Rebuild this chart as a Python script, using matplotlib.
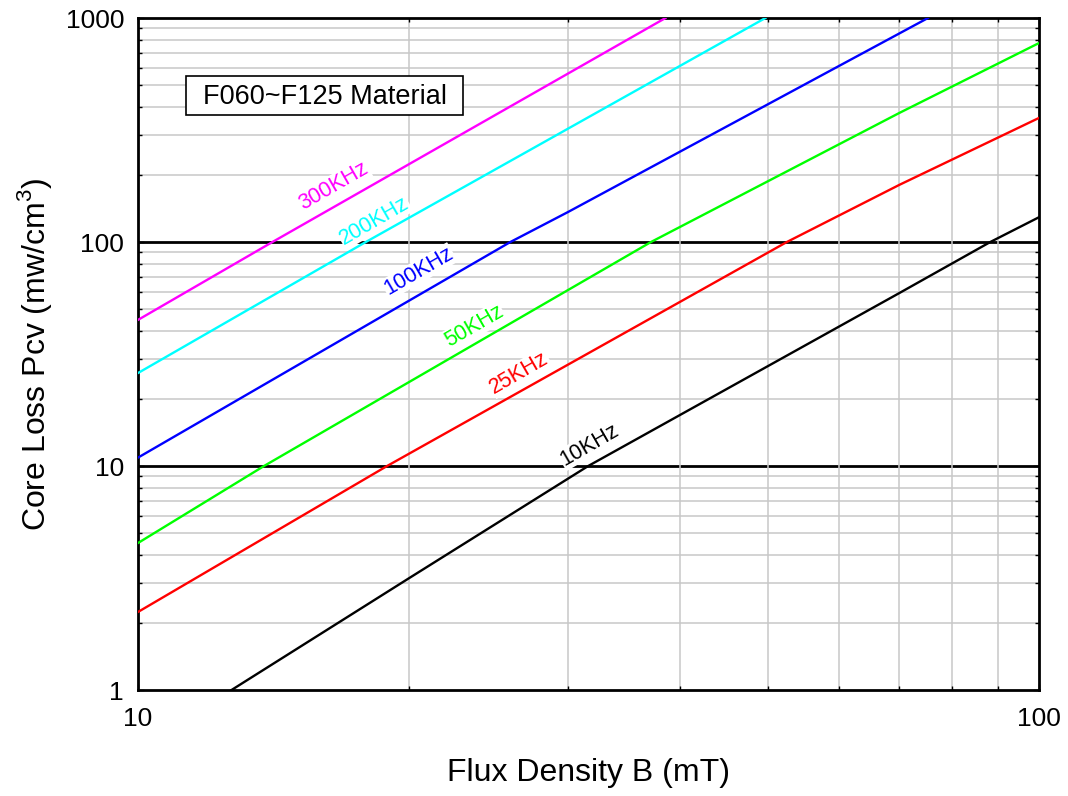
import matplotlib
matplotlib.use("Agg")
import matplotlib.pyplot as plt
from matplotlib.patches import Rectangle
from matplotlib.ticker import LogLocator, NullFormatter, FixedLocator, FixedFormatter

plt.rcParams['font.family'] = ['Liberation Sans', 'DejaVu Sans']
plt.rcParams['mathtext.fontset'] = 'custom'
plt.rcParams['mathtext.rm'] = 'Liberation Sans'

# curvas (B en mT, Pcv en mw/cm3)
b_10k = [12.7, 20, 31.6, 70, 88.3, 100]
p_10k = [1, 3.16, 10, 59.2, 100, 129]
b_25k = [10, 18.9, 52.5, 70, 100]
p_25k = [2.23, 10, 100, 180, 358]
b_50k = [10, 13.8, 37.1, 70, 100]
p_50k = [4.53, 10, 100, 377, 773]
b_100k = [10, 25.9, 30, 75.3]
p_100k = [10.9, 100, 136, 1000]
b_200k = [10, 17.9, 49.7]
p_200k = [26.0, 100, 1000]
b_300k = [10, 14.1, 38.5]
p_300k = [44.9, 100, 1000]

series = [
    ("300KHz", b_300k, p_300k, "#ff00ff", 16.5, 178),
    ("200KHz", b_200k, p_200k, "#00ffff", 18.3, 124),
    ("100KHz", b_100k, p_100k, "#0000ff", 20.5, 74),
    ("50KHz", b_50k, p_50k, "#00ff00", 23.6, 42),
    ("25KHz", b_25k, p_25k, "#ff0000", 26.5, 26.0),
    ("10KHz", b_10k, p_10k, "#000000", 31.7, 12.4),
]

fig = plt.figure(figsize=(10.68, 7.96), dpi=100)
ax = fig.add_axes([138/1068, 106/796, 901/1068, 672/796])
ax.set_xscale('log')
ax.set_yscale('log')
ax.set_xlim(10, 100)
ax.set_ylim(1, 1000)

# rejilla
ax.xaxis.set_minor_locator(LogLocator(base=10, subs=range(2, 10)))
ax.yaxis.set_minor_locator(LogLocator(base=10, subs=range(2, 10)))
ax.xaxis.set_minor_formatter(NullFormatter())
ax.yaxis.set_minor_formatter(NullFormatter())
ax.grid(which='minor', color='#c8c8c8', linewidth=1.1, zorder=0)
for v in [10, 100]:
    ax.axhline(v, color='black', linewidth=2, zorder=1)

ax.xaxis.set_major_locator(FixedLocator([10, 100]))
ax.xaxis.set_major_formatter(FixedFormatter(["10", "100"]))
ax.yaxis.set_major_locator(FixedLocator([1, 10, 100, 1000]))
ax.yaxis.set_major_formatter(FixedFormatter(["1", "10", "100", "1000"]))
ax.tick_params(which='both', labelsize=19, direction='in', right=True, top=True, width=1)
ax.tick_params(axis='x', pad=12)
ax.tick_params(axis='y', pad=10)
ax.tick_params(which='major', length=4)
ax.tick_params(which='minor', length=3)
for s in ax.spines.values():
    s.set_linewidth(2)

for name, b, p, c, tx, ty in series:
    ax.plot(b, p, color=c, linewidth=1.7, zorder=4)
    ax.text(tx, ty, name, color=c, fontsize=15.5, rotation=30, ha='center', va='center',
            rotation_mode='anchor', zorder=3,
            bbox=dict(facecolor='white', edgecolor='none', pad=0.5))

ax.add_patch(Rectangle((0.053, 0.856), 0.308, 0.058, transform=ax.transAxes,
                       facecolor='white', edgecolor='black', linewidth=1.2, zorder=5))
ax.text(0.207, 0.882, "F060~F125 Material", transform=ax.transAxes, fontsize=19.5,
        ha='center', va='center', zorder=6)

ax.set_xlabel("Flux Density B (mT)", fontsize=23, labelpad=20)
ax.set_ylabel("Core Loss Pcv (mw/cm$^3$)", fontsize=23, labelpad=8)

fig.savefig("out.png", dpi=100)
